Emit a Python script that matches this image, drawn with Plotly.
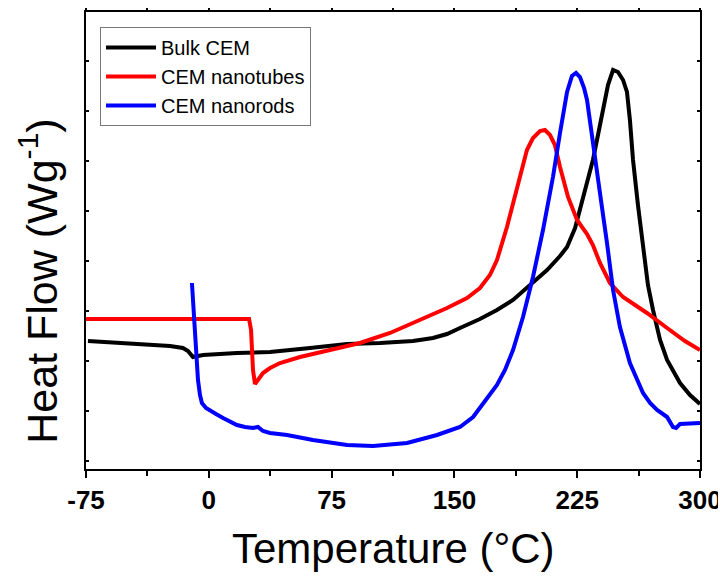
import plotly.graph_objects as go

# ---- data ----
bulk_x = [-73.8, -54.2, -35.9, -23.7, -15.8, -12.7, -9.7, -6.6, -3.5, 17.2, 37.4, 61.8, 84.4, 104.6,
          124.7, 136.9, 145.5, 153.4, 165.6, 176.0, 185.8, 196.2, 206.6, 214.5, 218.8, 223.7, 226.7,
          231.0, 234.6, 237.7, 240.8, 243.8, 246.9, 249.9, 253.0, 255.4, 257.2, 259.1, 262.1, 265.2,
          268.2, 271.3, 275.6, 279.9, 284.7, 287.8, 293.9, 298.8, 300.0]
bulk_y = [2.40, 2.36, 2.34, 2.30, 2.26, 2.20, 2.08, 2.10, 2.12, 2.16, 2.18, 2.26, 2.34, 2.36,
          2.40, 2.46, 2.54, 2.66, 2.84, 3.02, 3.22, 3.52, 3.82, 4.10, 4.28, 4.66, 5.02,
          5.52, 6.02, 6.52, 7.02, 7.52, 7.82, 7.78, 7.62, 7.38, 6.82, 6.02, 5.12, 4.22,
          3.52, 3.02, 2.42, 2.02, 1.72, 1.56, 1.32, 1.18, 1.14]

tubes_x = [-75.0, -35.9, -5.4, 24.6, 25.8, 27.0, 28.2, 30.0, 33.1, 37.4, 43.5, 55.7, 74.0, 92.3,
           110.7, 129.0, 145.5, 157.7, 165.6, 171.7, 176.0, 182.1, 188.2, 194.3, 198.0, 202.3,
           205.3, 208.4, 211.4, 214.5, 219.4, 224.9, 231.0, 234.6, 238.9, 245.0, 253.0, 267.6,
           279.9, 290.8, 300.0]
tubes_y = [2.84, 2.84, 2.84, 2.84, 2.62, 1.82, 1.54, 1.62, 1.76, 1.86, 1.96, 2.08, 2.22, 2.36,
           2.56, 2.82, 3.06, 3.26, 3.46, 3.72, 4.02, 4.68, 5.42, 6.22, 6.46, 6.60,
           6.62, 6.52, 6.32, 5.88, 5.28, 4.82, 4.54, 4.32, 3.96, 3.56, 3.28, 2.96,
           2.66, 2.40, 2.22]

rods_x = [-10.3, -9.7, -8.4, -7.2, -6.6, -5.4, -4.2, -1.7, 0.7, 4.4, 8.7, 12.9, 17.2, 22.1, 27.0,
          30.0, 33.1, 37.4, 47.8, 63.6, 84.4, 100.3, 121.1, 139.4, 153.4, 161.4, 165.6, 171.7,
          176.0, 180.9, 185.8, 191.9, 198.0, 204.1, 210.2, 214.5, 218.8, 221.8, 224.3, 226.7,
          229.2, 231.0, 234.6, 238.9, 243.2, 246.9, 251.1, 257.2, 265.2, 269.5, 273.8, 279.9,
          283.5, 285.4, 287.8, 293.9, 300.0]
rods_y = [3.56, 3.22, 2.48, 1.92, 1.62, 1.32, 1.16, 1.06, 1.02, 0.94, 0.86, 0.78, 0.72, 0.68, 0.66,
          0.68, 0.60, 0.56, 0.52, 0.42, 0.32, 0.30, 0.36, 0.52, 0.68, 0.88, 1.06, 1.32,
          1.52, 1.82, 2.22, 2.88, 3.68, 4.62, 5.68, 6.56, 7.38, 7.70, 7.76, 7.68,
          7.46, 7.22, 6.42, 5.36, 4.36, 3.42, 2.68, 1.96, 1.36, 1.16, 1.02, 0.88,
          0.68, 0.66, 0.74, 0.76, 0.76]

x_ticks = [-75, 0, 75, 150, 225, 300]
x_tick_labels = ["-75", "0", "75", "150", "225", "300"]
y_ticks = [0, 1, 2, 3, 4, 5, 6, 7, 8]

fig = go.Figure()
fig.add_trace(go.Scatter(x=bulk_x, y=bulk_y, mode="lines", name="Bulk CEM",
                         line=dict(color="#000000", width=4)))
fig.add_trace(go.Scatter(x=tubes_x, y=tubes_y, mode="lines", name="CEM nanotubes",
                         line=dict(color="#ff0000", width=4)))
fig.add_trace(go.Scatter(x=rods_x, y=rods_y, mode="lines", name="CEM nanorods",
                         line=dict(color="#0000ff", width=4)))

fig.update_layout(
    template="none",
    width=718, height=568,
    margin=dict(l=78, r=26, t=4, b=107, autoexpand=False),
    paper_bgcolor="white", plot_bgcolor="white",
    showlegend=True,
    legend=dict(x=0.0228, y=0.967, xanchor="left", yanchor="top",
                bordercolor="#777777", borderwidth=1, bgcolor="white",
                font=dict(family="Liberation Sans, Arial, sans-serif", size=20, color="black"),
                itemwidth=50, tracegroupgap=0),
    xaxis=dict(range=[-75, 300], tickvals=x_ticks, ticktext=x_tick_labels, automargin=False,
               ticks="outside", ticklen=7, tickwidth=2, tickcolor="black",
               minor=dict(dtick=37.5, tick0=-37.5, ticks="outside", ticklen=5, tickwidth=2,
                          tickcolor="black"),
               showline=True, linewidth=2, linecolor="black", mirror="ticks",
               showgrid=False, zeroline=False,
               tickfont=dict(family="Liberation Sans, Arial", size=26,
                             color="black", weight="bold")),
    yaxis=dict(range=[-0.16, 8.98], tickvals=y_ticks, showticklabels=False, automargin=False,
               ticks="inside", ticklen=3, tickwidth=2, tickcolor="black",
               showline=True, linewidth=2, linecolor="black", mirror="ticks",
               showgrid=False, zeroline=False),
    annotations=[
        dict(text="Temperature (°C)", xref="paper", yref="paper", x=0.5, y=-0.175,
             xanchor="center", yanchor="middle", showarrow=False,
             font=dict(family="Liberation Sans, Arial", size=42, color="black")),
        dict(text="Heat Flow (Wg<sup>-1</sup>)", xref="paper", yref="paper", x=-0.078, y=0.41,
             xanchor="center", yanchor="middle", showarrow=False, textangle=-90,
             font=dict(family="Liberation Sans, Arial", size=43, color="black")),
    ],
)

fig.write_html("out.html")
